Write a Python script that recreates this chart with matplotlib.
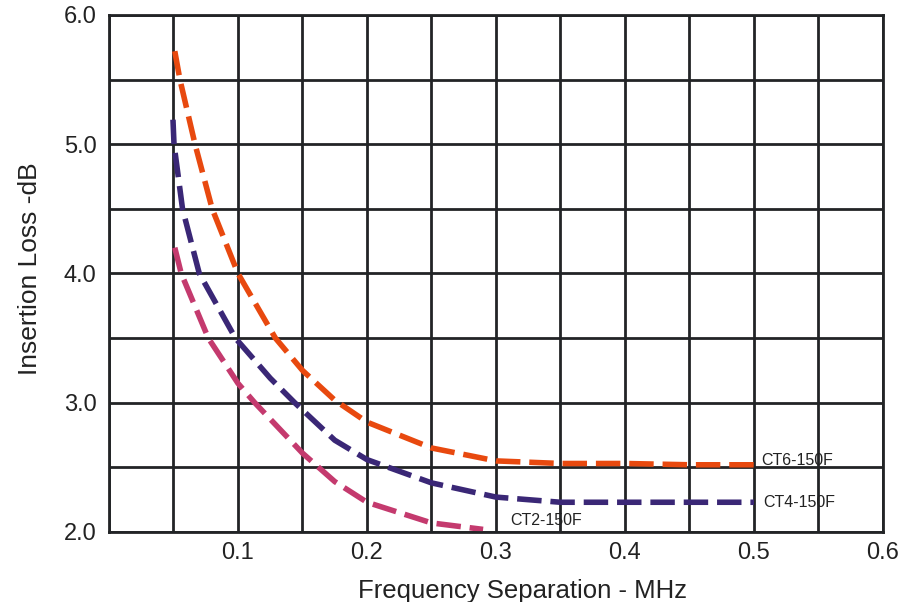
import matplotlib
matplotlib.use("Agg")
import matplotlib.pyplot as plt
from matplotlib.ticker import MultipleLocator, FixedLocator

plt.rcParams['font.family'] = ['Liberation Sans', 'DejaVu Sans']

# Insertion loss vs. frequency separation for three cavity types
ct6_x = [0.051, 0.055, 0.0667, 0.080, 0.100, 0.129, 0.150, 0.175, 0.200, 0.250, 0.300, 0.350, 0.400, 0.450, 0.500]
ct6_y = [5.72, 5.50, 5.00, 4.50, 4.00, 3.50, 3.25, 3.02, 2.85, 2.65, 2.55, 2.53, 2.53, 2.52, 2.52]

ct4_x = [0.0496, 0.0504, 0.057, 0.070, 0.098, 0.125, 0.144, 0.175, 0.200, 0.250, 0.300, 0.350, 0.400, 0.500]
ct4_y = [5.19, 5.00, 4.50, 4.00, 3.50, 3.19, 3.00, 2.71, 2.56, 2.38, 2.27, 2.23, 2.23, 2.23]

ct2_x = [0.051, 0.056, 0.077, 0.100, 0.113, 0.150, 0.175, 0.200, 0.250, 0.290]
ct2_y = [4.20, 4.00, 3.50, 3.15, 3.00, 2.61, 2.39, 2.23, 2.07, 2.02]

series_names = ["CT6-150F", "CT4-150F", "CT2-150F"]
x_tick_labels = ["0.1", "0.2", "0.3", "0.4", "0.5", "0.6"]
y_tick_labels = ["2.0", "3.0", "4.0", "5.0", "6.0"]

fig = plt.figure(figsize=(9.06, 6.02), dpi=100)
ax = fig.add_axes([0.1203, 0.1163, 0.8543, 0.8588])

grid_color = "#222426"
ax.set_xlim(0, 0.6)
ax.set_ylim(2.0, 6.0)
ax.xaxis.set_major_locator(FixedLocator([float(t) for t in x_tick_labels]))
ax.set_xticklabels(x_tick_labels)
ax.xaxis.set_minor_locator(MultipleLocator(0.05))
ax.yaxis.set_major_locator(FixedLocator([float(t) for t in y_tick_labels]))
ax.set_yticklabels(y_tick_labels)
ax.yaxis.set_minor_locator(MultipleLocator(0.5))
ax.grid(which="both", color=grid_color, linewidth=2.0)
ax.set_axisbelow(True)
ax.tick_params(which="both", length=0, labelsize=17, colors="#222222")
ax.tick_params(axis="y", pad=9)
ax.tick_params(axis="x", pad=7)
for sp in ax.spines.values():
    sp.set_color(grid_color)
    sp.set_linewidth(2.0)

colors = ["#E8490F", "#3A2776", "#C43A6E"]
curves = [(ct6_x, ct6_y), (ct4_x, ct4_y), (ct2_x, ct2_y)]
for (xs, ys), c in zip(curves, colors):
    ax.plot(xs, ys, color=c, linewidth=4.0, dashes=(4.4, 1.6),
            dash_capstyle="butt", solid_joinstyle="round")

label_pos = [(0.506, 2.55), (0.507, 2.23), (0.311, 2.09)]
for name, (lx, ly) in zip(series_names, label_pos):
    ax.text(lx, ly, name, fontsize=11.5, color="#222222", va="center", ha="left")

ax.set_xlabel("Frequency Separation - MHz", fontsize=18.5, color="#222222")
ax.xaxis.set_label_coords(0.534, -0.090)
ax.set_ylabel("Insertion Loss -dB", fontsize=19, color="#222222")
ax.yaxis.set_label_coords(-0.087, 0.51)

fig.savefig("out.png", dpi=100)
